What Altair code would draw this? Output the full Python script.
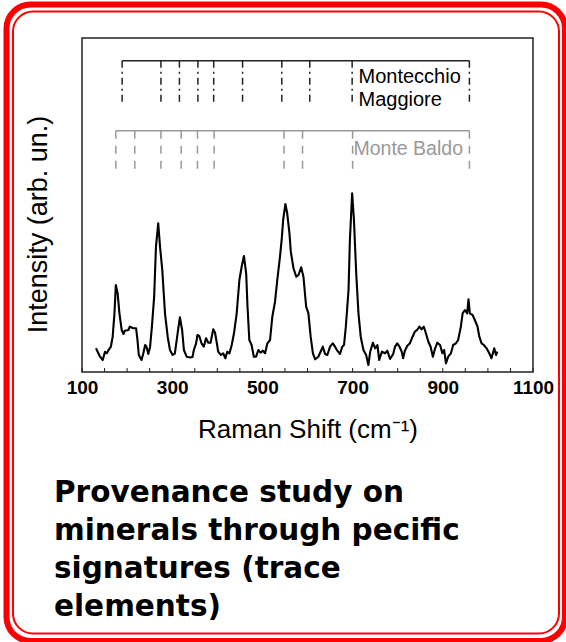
import altair as alt
import pandas as pd

# Raman spectrum (cm^-1, arbitrary intensity units)
raman_shift = [
    131, 140, 146, 151, 155, 158, 164, 168, 172, 175,
    179, 183, 188, 192, 195, 203, 206, 214, 220, 223,
    226, 232, 236, 240, 243, 247, 251, 255, 260, 264,
    269, 273, 278, 284, 290, 295, 301, 306, 311, 317,
    322, 326, 332, 340, 345, 348, 353, 356, 360, 365,
    370, 375, 380, 385, 391, 395, 399, 402, 408, 413,
    418, 422, 427, 432, 437, 443, 449, 454, 459, 464,
    467, 471, 476, 481, 486, 491, 496, 501, 506, 511,
    517, 522, 528, 533, 539, 543, 546, 551, 555, 560,
    563, 569, 575, 580, 586, 591, 597, 602, 607, 612,
    617, 624, 629, 634, 639, 644, 650, 656, 661, 666,
    672, 677, 681, 685, 691, 694, 699, 703, 708, 713,
    718, 724, 730, 735, 739, 745, 750, 755, 759, 765,
    772, 777, 783, 790, 794, 799, 804, 809, 812, 816,
    821, 827, 833, 838, 843, 848, 853, 858, 863, 868,
    873, 878, 883, 888, 894, 899, 903, 907, 912, 918,
    923, 929, 934, 940, 944, 949, 954, 957, 960, 966,
    971, 977, 981, 986, 991, 997, 1003, 1008, 1014, 1018,
    1021,
]
intensity = [
    23.7, 15.3, 12, 20.3, 18.7, 21.3, 25.3, 35.3, 58.7, 87,
    78.7, 58.7, 42, 38, 41.3, 42, 45.3, 43.7, 43.7, 32,
    17, 12, 18.7, 27, 25.3, 18, 25.3, 45.3, 75.3, 125.3,
    148.7, 125.3, 102, 58.7, 35.3, 22, 17, 18.7, 35.3, 54.7,
    42, 22, 15.3, 14.5, 15, 22, 28.7, 37, 36, 28.7,
    25.3, 33.7, 29.3, 29.3, 42.7, 39.3, 28.7, 20.3, 17, 18.7,
    13.7, 20.3, 18.7, 27, 38.7, 58.7, 92, 105.3, 116, 98.7,
    65.3, 32, 27, 15.3, 15.3, 22, 19.3, 21.3, 18.7, 28.7,
    32, 55.3, 70.3, 92, 115.3, 133.7, 152, 168, 158.7, 138.7,
    120.3, 103.5, 95.3, 97, 104.7, 95.3, 65.3, 58.7, 35.3, 18.7,
    12.7, 15.3, 20.3, 25.3, 18, 17, 25.3, 28.7, 25.3, 21.3,
    18, 25.3, 27, 45.3, 82, 132, 178.7, 152, 98.7, 58.7,
    35.3, 22, 17, 7, 20.3, 29.3, 23.7, 27, 12, 20.3,
    18.7, 21.3, 13, 18, 25.3, 28.7, 25.3, 20.3, 13.7, 21.3,
    26, 28.7, 35.3, 40.3, 42, 45.3, 42.7, 45.3, 38, 30.3,
    25.3, 15.3, 23.7, 29.3, 27, 18.7, 22, 8.7, 15.3, 18.7,
    27, 28.7, 32, 45.3, 58.7, 62, 58.7, 72.7, 58.7, 57,
    52, 45.3, 35.3, 28.7, 27, 23.7, 18.7, 13.7, 23.7, 17,
    20.3,
]

# Reference band positions for the two quarries (cm^-1)
montecchio_bands = [189, 275, 316, 357, 392, 456, 543, 605, 699, 959]
monte_baldo_bands = [175, 217, 275, 320, 356, 393, 548, 589, 700, 959]

x_tick_values = list(range(100, 1101, 50))
x_label_values = [100, 300, 500, 700, 900, 1100]

caption = "Provenance study on\nminerals through pecific\nsignatures (trace\nelements)"

W, H = 451, 334
x_scale = alt.Scale(domain=[100, 1100], nice=False, zero=False)
y_scale = alt.Scale(domain=[0, 334], nice=False, zero=False)
FONT = "Liberation Sans"
INK = "#222222"

spectrum_df = pd.DataFrame({"shift": raman_shift, "intensity": intensity})

spectrum = alt.Chart(spectrum_df).mark_line(
    color="black", strokeWidth=2.1, strokeJoin="round"
).encode(
    x=alt.X(
        "shift:Q", scale=x_scale,
        axis=alt.Axis(
            values=x_label_values, format="d", title="Raman Shift (cm⁻¹)",
            ticks=False, domain=False, grid=False,
            labelFont=FONT, labelFontWeight="bold", labelFontSize=19,
            labelColor="black", labelPadding=6, labelFlush=False, labelOverlap=False,
            titleFont=FONT, titleFontSize=26, titleFontWeight="normal",
            titleColor="black", titleBaseline="alphabetic", titleY=65, titleX=W / 2,
        ),
    ),
    y=alt.Y(
        "intensity:Q", scale=y_scale,
        axis=alt.Axis(
            title="Intensity (arb. un.)", ticks=False, labels=False,
            domain=False, grid=False,
            titleFont=FONT, titleFontSize=27, titleFontWeight="normal",
            titleColor="black", titleBaseline="alphabetic",
            titleX=-35.5, titleY=186, titleAngle=270,
        ),
    ),
)

# inward minor ticks along the bottom edge
ticks = alt.Chart(pd.DataFrame({"t": x_tick_values})).mark_rule(
    color=INK, strokeWidth=1
).encode(x=alt.X("t:Q", scale=x_scale), y=alt.value(H), y2=alt.value(H - 4))

def bracket(bands, y_top, y_bottom, color, dash):
    span = pd.DataFrame({"start": [bands[0]], "end": [bands[-1]]})
    top = alt.Chart(span).mark_rule(color=color, strokeWidth=1.5).encode(
        x=alt.X("start:Q", scale=x_scale), x2="end:Q", y=alt.value(y_top)
    )
    drops = alt.Chart(pd.DataFrame({"band": bands})).mark_rule(
        color=color, strokeWidth=1.5, strokeDash=dash
    ).encode(x=alt.X("band:Q", scale=x_scale), y=alt.value(y_top), y2=alt.value(y_bottom))
    return top + drops

mm_bracket = bracket(montecchio_bands, 22.7, 67, INK, [7, 4, 2, 4])
mb_bracket = bracket(monte_baldo_bands, 92.7, 134, "#999999", [8, 7])

one = pd.DataFrame({"k": [0]})

mm_label = alt.Chart(pd.DataFrame({"txt": ["Montecchio\nMaggiore"]})).mark_text(
    align="left", baseline="alphabetic", font=FONT, fontSize=20,
    color="black", lineBreak="\n", lineHeight=23.3
).encode(x=alt.value(276.5), y=alt.value(44.7), text="txt:N")

mb_label = alt.Chart(pd.DataFrame({"txt": ["Monte Baldo"]})).mark_text(
    align="left", baseline="alphabetic", font=FONT, fontSize=19.5, color="#999999"
).encode(x=alt.value(271.5), y=alt.value(117), text="txt:N")

caption_text = alt.Chart(pd.DataFrame({"txt": [caption]})).mark_text(
    align="left", baseline="alphabetic", font="DejaVu Sans", fontWeight="bold",
    fontSize=29.5, color="black", lineBreak="\n", lineHeight=37.8
).encode(x=alt.value(-28), y=alt.value(464.3), text="txt:N")

# double red rounded frame around the panel
outer_frame = alt.Chart(one).mark_rect(
    fill=None, stroke="#ff0000", strokeWidth=6, cornerRadius=24
).encode(x=alt.value(-75.5), x2=alt.value(483), y=alt.value(-33.5), y2=alt.value(603))
inner_frame = alt.Chart(one).mark_rect(
    fill=None, stroke="#ff0000", strokeWidth=2, cornerRadius=20
).encode(x=alt.value(-69), x2=alt.value(477), y=alt.value(-26.5), y2=alt.value(595.5))

chart = alt.layer(
    outer_frame, inner_frame, ticks, mm_bracket, mb_bracket,
    mm_label, mb_label, spectrum, caption_text,
).properties(
    width=W, height=H,
    autosize=alt.AutoSizeParams(type="none"),
    padding={"left": 82, "top": 38, "right": 33, "bottom": 270},
    background="white",
).configure_view(stroke=INK, strokeWidth=1.5)

chart.save("out.html", embed_options={"renderer": "svg", "actions": False})
